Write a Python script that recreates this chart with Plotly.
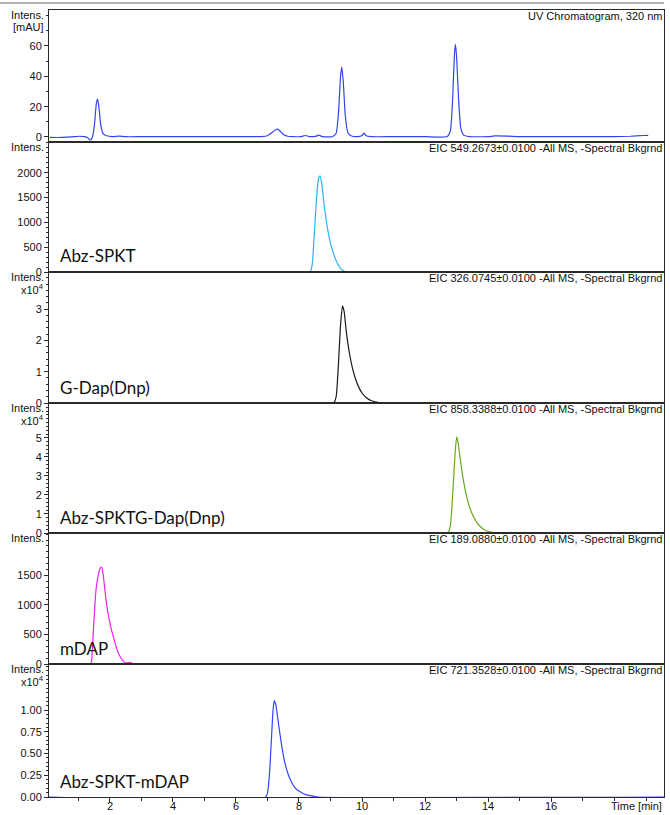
import plotly.graph_objects as go

# ---------------- data ----------------
uv_time = [0.10, 0.50, 0.90, 1.05, 1.20, 1.30, 1.38, 1.45, 1.52, 1.58, 1.62, 1.66, 1.72, 1.80, 1.90,
           2.10, 2.30, 2.50, 3.00, 4.00, 5.00, 6.00, 6.80, 7.00, 7.12, 7.25, 7.32, 7.40, 7.52, 7.65,
           7.80, 8.05, 8.20, 8.32, 8.52, 8.63, 8.74, 9.05, 9.18, 9.26, 9.32, 9.36, 9.41, 9.47, 9.55,
           9.65, 9.85, 10.00, 10.06, 10.13, 10.30, 11.00, 12.00, 12.70, 12.80, 12.87, 12.93, 12.96,
           13.00, 13.06, 13.13, 13.22, 13.40, 14.00, 14.20, 14.60, 15.00, 16.00, 17.00, 18.00, 18.50,
           18.90, 19.07]
uv_mau = [-0.3, -0.3, 0.2, 0.5, 0.2, -0.4, -2.0, -0.5, 8.0, 22.0, 25.0, 20.0, 8.0, 2.0, 0.8,
          0.3, 0.6, 0.2, 0.2, 0.2, 0.2, 0.2, 0.3, 0.8, 2.5, 4.6, 5.2, 4.0, 1.5, 0.5,
          0.3, 0.2, 1.0, 0.3, 0.4, 1.2, 0.3, 0.2, 2.5, 18.0, 40.0, 46.0, 35.0, 14.0, 3.0,
          0.8, 0.2, 1.0, 2.5, 0.8, 0.2, 0.2, 0.2, 0.3, 4.0, 24.0, 55.0, 61.0,
          52.0, 25.0, 6.0, 1.2, 0.3, 0.2, 0.7, 0.6, 0.3, 0.2, 0.2, 0.2, 0.5,
          1.0, 1.1]

spkt_time = [0.08, 8.35, 8.42, 8.50, 8.56, 8.62, 8.67, 8.72, 8.80, 8.90, 9.00, 9.10, 9.20, 9.30,
             9.40, 9.50, 9.60, 19.57]
spkt_int = [0, 0, 150, 900, 1500, 1880, 1940, 1800, 1350, 900, 580, 360, 200, 90,
            30, 5, 0, 0]

gdap_time = [0.08, 9.10, 9.18, 9.25, 9.32, 9.38, 9.43, 9.50, 9.60, 9.70, 9.80, 9.90, 10.00,
             10.15, 10.30, 10.50, 10.70, 19.57]
gdap_int = [0, 0, 2000, 12000, 25000, 31000, 29500, 23000, 16000, 11000, 7500, 5000, 3200,
            1600, 700, 200, 0, 0]

spktg_time = [0.08, 12.72, 12.80, 12.88, 12.95, 13.00, 13.05, 13.12, 13.22, 13.32, 13.42,
              13.55, 13.70, 13.85, 14.00, 14.20, 14.40, 19.57]
spktg_int = [0, 0, 4000, 22000, 42000, 50500, 47000, 38000, 27000, 19000, 13000,
             8000, 4200, 2000, 800, 200, 0, 0]

mdap_time = [0.08, 1.40, 1.45, 1.50, 1.56, 1.62, 1.70, 1.75, 1.80, 1.88, 1.95, 2.05, 2.15,
             2.25, 2.35, 2.45, 2.55, 2.65, 2.75, 2.85, 19.57]
mdap_int = [0, 0, 200, 700, 1200, 1450, 1620, 1640, 1500, 1120, 860, 600, 400,
            220, 110, 40, 20, 30, 5, 0, 0]

spktm_time = [0.08, 6.95, 7.05, 7.12, 7.18, 7.22, 7.27, 7.35, 7.45, 7.55, 7.65, 7.74, 7.82,
              7.90, 8.00, 8.10, 8.25, 8.40, 8.60, 19.57]
spktm_int = [0, 0, 1900, 6000, 10000, 11100, 10600, 8500, 6000, 4000, 2700, 1900, 1350,
             970, 680, 460, 250, 120, 0, 0]

headers = ["UV Chromatogram, 320 nm",
           "EIC 549.2673\u00b10.0100 -All MS, -Spectral Bkgrnd",
           "EIC 326.0745\u00b10.0100 -All MS, -Spectral Bkgrnd",
           "EIC 858.3388\u00b10.0100 -All MS, -Spectral Bkgrnd",
           "EIC 189.0880\u00b10.0100 -All MS, -Spectral Bkgrnd",
           "EIC 721.3528\u00b10.0100 -All MS, -Spectral Bkgrnd"]
compounds = ["", "Abz-SPKT", "G-Dap(Dnp)", "Abz-SPKTG-Dap(Dnp)", "mDAP", "Abz-SPKT-mDAP"]

y_tickvals = [[0, 20, 40, 60],
              [0, 500, 1000, 1500, 2000],
              [0, 10000, 20000, 30000],
              [0, 10000, 20000, 30000, 40000, 50000],
              [0, 500, 1000, 1500],
              [0, 2500, 5000, 7500, 10000]]
y_ticktext = [["0", "20", "40", "60"],
              ["0", "500", "1000", "1500", "2000"],
              ["0", "1", "2", "3"],
              ["0", "1", "2", "3", "4", "5"],
              ["0", "500", "1000", "1500"],
              ["0.00", "0.25", "0.50", "0.75", "1.00"]]
x_tickvals = [2, 4, 6, 8, 10, 12, 14, 16]
x_ticktext = ["2", "4", "6", "8", "10", "12", "14", "16"]

# ---------------- styling / layout ----------------
W, H = 670, 815
LEFT, RIGHT, TOP, BOT = 49, 664, 10, 797
bounds = [10, 142, 272, 403, 533, 664, 797]
y_ranges = [[-3.3, 83.7], [0, 2620], [0, 41900], [0, 68300], [0, 2220], [0, 15300]]
y_minor = [10, 100, 2000, 2000, 100, 500]
colors = ["#3344ee", "#2ab4ef", "#1a1a1a", "#6aaa1e", "#ee22ee", "#3344ff"]
series = [(uv_time, uv_mau), (spkt_time, spkt_int), (gdap_time, gdap_int),
          (spktg_time, spktg_int), (mdap_time, mdap_int), (spktm_time, spktm_int)]
sub_labels = [["Intens.", "[mAU]"], ["Intens."], ["Intens.", "x10<sup>4</sup>"],
              ["Intens.", "x10<sup>4</sup>"], ["Intens."], ["Intens.", "x10<sup>4</sup>"]]

PW = RIGHT - LEFT
PH = BOT - TOP


def pxx(p):
    return (p - LEFT) / PW


def pxy(p):
    return (BOT - p) / PH


FONT = "Liberation Sans, Arial, sans-serif"
LINE = "#2a2a2a"
TXT = dict(family=FONT, size=11, color="#111")

fig = go.Figure()
layout = dict(width=W, height=H, autosize=False,
              margin=dict(l=LEFT, r=W - RIGHT, t=TOP, b=H - BOT, pad=0, autoexpand=False),
              paper_bgcolor="white", plot_bgcolor="white", showlegend=False,
              font=TXT)
annotations = []

for i in range(6):
    sfx = "" if i == 0 else str(i + 1)
    xa, ya = "x" + sfx, "y" + sfx
    t, v = series[i]
    fig.add_trace(go.Scatter(x=t, y=v, mode="lines", xaxis=xa, yaxis=ya,
                             line=dict(color=colors[i], width=1.2, shape="spline", smoothing=0.5),
                             hoverinfo="skip"))
    last = (i == 5)
    xdict = dict(domain=[0, 1], anchor=ya, range=[0.08, 19.57], showline=True, mirror=True,
                 linecolor=LINE, linewidth=1, showgrid=False, zeroline=False, automargin=False,
                 showticklabels=False)
    if i > 0:
        xdict["matches"] = "x"
    if last:
        xdict.update(tickmode="array", tickvals=x_tickvals, ticks="outside", ticklen=4,
                     tickcolor=LINE,
                     minor=dict(tick0=0, dtick=1, ticks="outside", ticklen=3, tickcolor=LINE, showgrid=False))
    else:
        xdict.update(ticks="")
    layout["xaxis" + sfx] = xdict
    layout["yaxis" + sfx] = dict(domain=[pxy(bounds[i + 1]), pxy(bounds[i])], anchor=xa,
                                 range=y_ranges[i], showline=True, mirror=True, linecolor=LINE,
                                 linewidth=1, showgrid=False, zeroline=False, automargin=False,
                                 tickmode="array", tickvals=y_tickvals[i], ticktext=y_ticktext[i],
                                 ticks="outside", ticklen=4, tickcolor=LINE,
                                 tickfont=TXT,
                                 minor=dict(tick0=0, dtick=y_minor[i], ticks="outside", ticklen=2,
                                            tickcolor=LINE, showgrid=False))
    # header on the right
    annotations.append(dict(text=headers[i], xref="paper", yref="paper", x=1, y=pxy(bounds[i] + 6),
                            xanchor="right", yanchor="middle", showarrow=False, xshift=1, font=TXT))
    # "Intens." labels
    for k, s in enumerate(sub_labels[i]):
        annotations.append(dict(text=s, xref="paper", yref="paper", x=0, y=pxy(bounds[i] + 5 + 12 * k),
                                xanchor="right", yanchor="middle", showarrow=False, xshift=-3, font=TXT))
    # compound label
    if compounds[i]:
        annotations.append(dict(text=compounds[i], xref="paper", yref="paper", x=pxx(58),
                                y=pxy(bounds[i + 1] - 16), xanchor="left", yanchor="middle",
                                showarrow=False, font=dict(family="Lato, Open Sans, sans-serif", size=17,
                                                           color="#111")))

# bottom x tick labels (placed on the bottom x axis scale)
for tv, tt in zip(x_tickvals, x_ticktext):
    annotations.append(dict(text=tt, xref="x6", yref="paper", x=tv, y=pxy(806),
                            xanchor="center", yanchor="middle", showarrow=False, font=TXT))
annotations.append(dict(text="Time [min]", xref="paper", yref="paper", x=1, y=pxy(806),
                        xanchor="right", yanchor="middle", showarrow=False, font=TXT))
layout["annotations"] = annotations
layout["shapes"] = [dict(type="line", xref="paper", yref="paper", x0=pxx(0), x1=pxx(664),
                         y0=pxy(3), y1=pxy(3), line=dict(color="#999", width=1.5))]
fig.update_layout(**layout)
fig.write_html("out.html", config={"displayModeBar": False},
               post_script="document.body.style.margin='0';document.body.style.overflow='hidden';")
